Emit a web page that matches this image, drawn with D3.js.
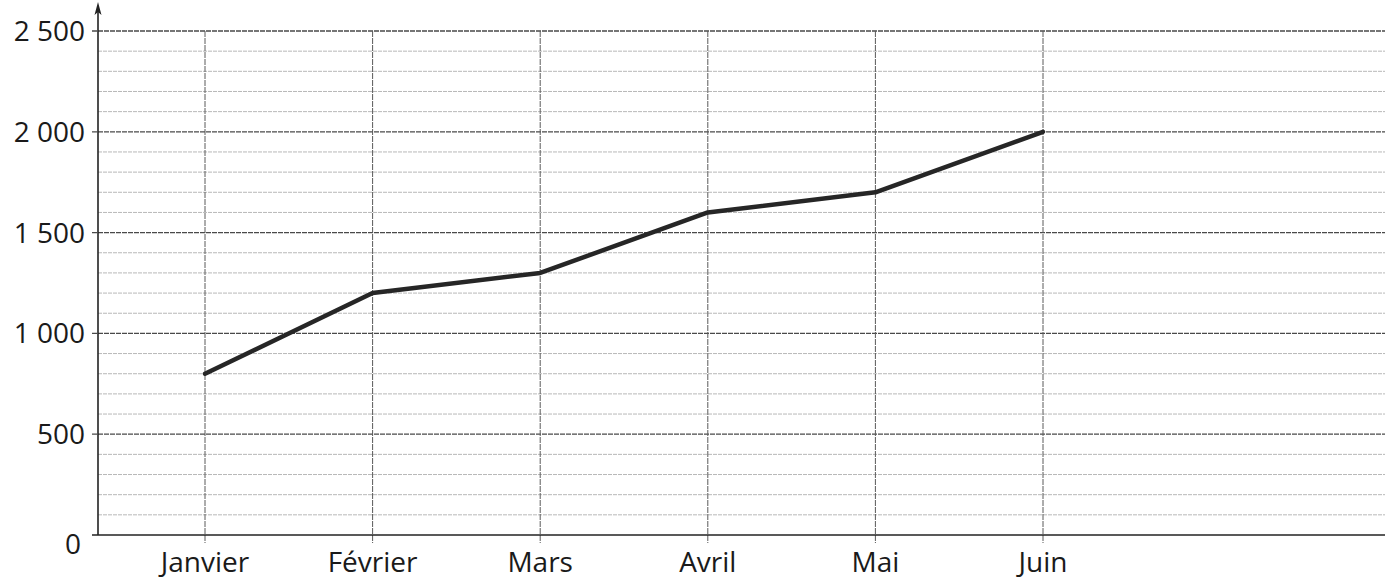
<!DOCTYPE html>
<html>
<head>
<meta charset="utf-8">
<script src="https://cdn.jsdelivr.net/npm/d3@7"></script>
<style>
  body { margin: 0; background: #fff; overflow: hidden; }
  text { font-family: "Open Sans", "DejaVu Sans", sans-serif; fill: #1a1a1a; }
</style>
</head>
<body>
<div id="chart"></div>
<script>
var months = ["Janvier", "Février", "Mars", "Avril", "Mai", "Juin"];
var values = [800, 1200, 1300, 1600, 1700, 2000];
var majorTicks = [0, 500, 1000, 1500, 2000, 2500];
var minorTicks = d3.range(100, 2500, 100).filter(d => d % 500 !== 0);

var svgWidth = 1394;
var svgHeight = 579;

var svg = d3.select("#chart")
  .append("svg")
  .attr("width", svgWidth)
  .attr("height", svgHeight)
  .style("display", "block");

var axisX = 98;
var gridRight = 1385;

// y scale : 0 at the baseline, 2 500 at the top line
var y = d3.scaleLinear()
  .domain([0, 2500])
  .range([535, 31]);

// months sit on their own vertical lines
var x = d3.scalePoint()
  .domain(months)
  .range([205, 1043]);

// minor horizontal lines every 100
svg.append("g").selectAll("line")
  .data(minorTicks)
  .enter()
  .append("line")
  .attr("x1", axisX)
  .attr("x2", gridRight)
  .attr("y1", d => y(d))
  .attr("y2", d => y(d))
  .attr("stroke", "#b8b8b8")
  .attr("stroke-width", 1)
  .attr("stroke-dasharray", "4,1");

// major horizontal lines every 500
svg.append("g").selectAll("line")
  .data(majorTicks.filter(d => d > 0))
  .enter()
  .append("line")
  .attr("x1", axisX - 6)
  .attr("x2", gridRight)
  .attr("y1", d => y(d))
  .attr("y2", d => y(d))
  .attr("stroke", "#4a4a4a")
  .attr("stroke-width", 1.3)
  .attr("stroke-dasharray", "5,1");

// vertical lines at each month
svg.append("g").selectAll("line")
  .data(months)
  .enter()
  .append("line")
  .attr("x1", d => x(d))
  .attr("x2", d => x(d))
  .attr("y1", y(2500))
  .attr("y2", y(0) + 8)
  .attr("stroke", "#5a5a5a")
  .attr("stroke-width", 1)
  .attr("stroke-dasharray", "6,1");

// baseline
svg.append("line")
  .attr("x1", axisX - 6)
  .attr("x2", gridRight)
  .attr("y1", y(0))
  .attr("y2", y(0))
  .attr("stroke", "#222")
  .attr("stroke-width", 1.6);

// y axis with arrow head
svg.append("line")
  .attr("x1", axisX)
  .attr("x2", axisX)
  .attr("y1", y(0))
  .attr("y2", 8)
  .attr("stroke", "#222")
  .attr("stroke-width", 1.6);

svg.append("path")
  .attr("d", `M${axisX},2 L${axisX + 3.5},15 L${axisX},12 L${axisX - 3.5},15 Z`)
  .attr("fill", "#222");

// y labels
svg.append("g").selectAll("text")
  .data(majorTicks)
  .enter()
  .append("text")
  .attr("x", d => d === 0 ? 81 : 85)
  .attr("y", d => d === 0 ? y(d) + 19 : y(d) + 10)
  .attr("text-anchor", "end")
  .attr("font-size", 28)
  .text(d => d3.format(",")(d).replace(/,/g, " "));

// month labels
svg.append("g").selectAll("text")
  .data(months)
  .enter()
  .append("text")
  .attr("x", d => x(d))
  .attr("y", 572)
  .attr("text-anchor", "middle")
  .attr("font-size", 28)
  .text(d => d);

// the data line
var line = d3.line()
  .x((d, i) => x(months[i]))
  .y(d => y(d));

svg.append("path")
  .datum(values)
  .attr("d", line)
  .attr("fill", "none")
  .attr("stroke", "#262626")
  .attr("stroke-width", 4.5)
  .attr("stroke-linejoin", "round")
  .attr("stroke-linecap", "round");
</script>
</body>
</html>
